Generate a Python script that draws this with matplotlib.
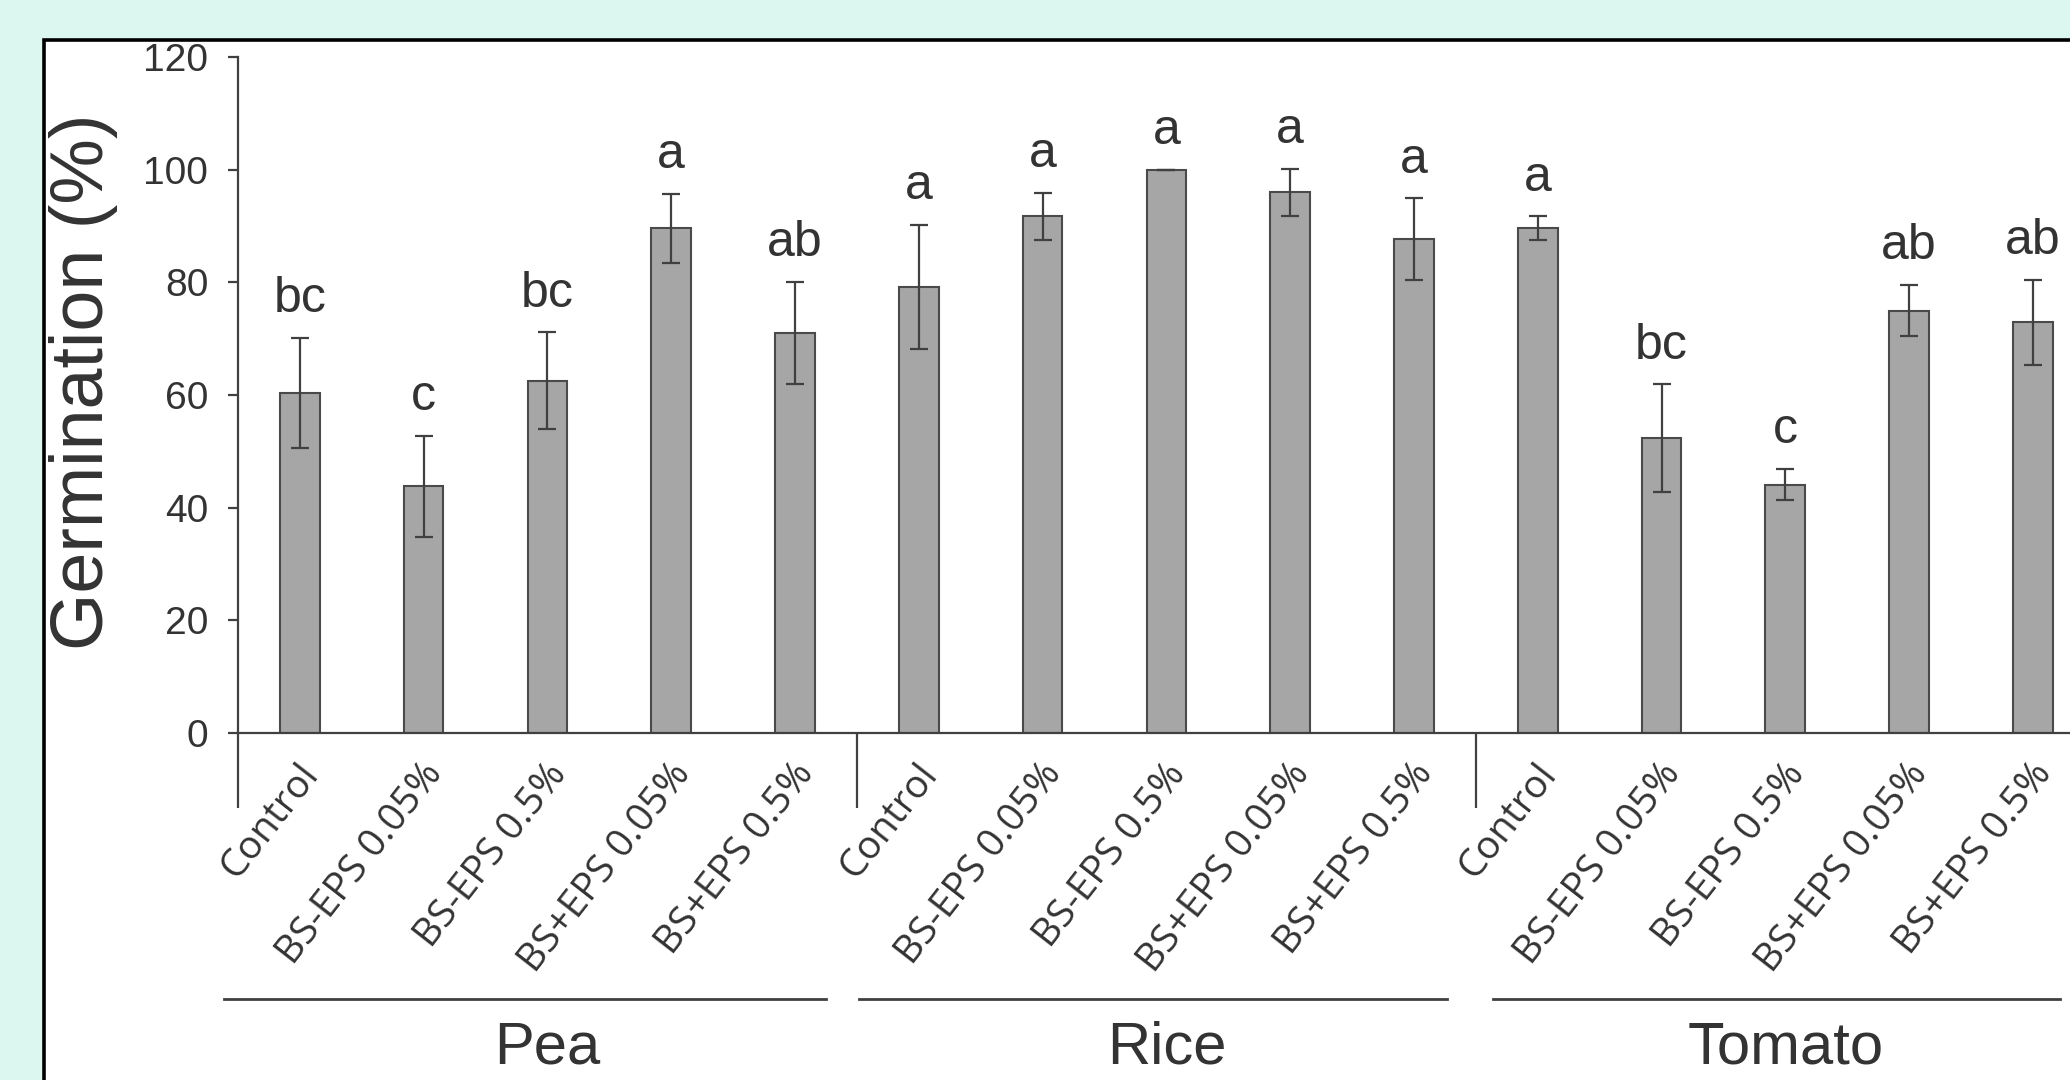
import matplotlib
matplotlib.use("Agg")
import matplotlib.pyplot as plt
import matplotlib.transforms as mtransforms
from matplotlib.patches import Rectangle
import numpy as np

# ---- data ----
crops = ["Pea", "Rice", "Tomato"]
treatments = ["Control", "BS-EPS 0.05%", "BS-EPS 0.5%", "BS+EPS 0.05%", "BS+EPS 0.5%"]

pea_mean = [60.4, 43.8, 62.5, 89.6, 71.0]
pea_err = [9.8, 9.0, 8.6, 6.1, 9.1]
pea_sig = ["bc", "c", "bc", "a", "ab"]

rice_mean = [79.2, 91.7, 100.0, 96.0, 87.7]
rice_err = [11.0, 4.2, 0.0, 4.2, 7.2]
rice_sig = ["a", "a", "a", "a", "a"]

tomato_mean = [89.6, 52.3, 44.1, 75.0, 72.9]
tomato_err = [2.1, 9.6, 2.8, 4.6, 7.6]
tomato_sig = ["a", "bc", "c", "ab", "ab"]

y_ticks = [0, 20, 40, 60, 80, 100, 120]

# ---- layout / styling ----
W, H, DPI = 2070, 1080, 100
BG = "#DBF7F0"
BAR_FILL = "#A6A6A6"
BAR_EDGE = "#4A4A4A"
INK = "#333333"
AX_COL = "#404040"

means = np.array(pea_mean + rice_mean + tomato_mean)
errs = np.array(pea_err + rice_err + tomato_err)
sigs = pea_sig + rice_sig + tomato_sig
labels = treatments * len(crops)
x = np.arange(len(means), dtype=float)

fig = plt.figure(figsize=(W / DPI, H / DPI), dpi=DPI, facecolor=BG)

# white panel with black frame, kept behind the axes
panel = Rectangle((44 / W, -0.2), 2.0, 0.2 + 1 - 40 / H,
                  transform=fig.transFigure, facecolor="white",
                  edgecolor="black", linewidth=2.6, zorder=-10)
fig.patches.append(panel)

ax_left = 238 / W
ax_bottom = 1 - 733 / H
ax_top = 1 - 57 / H
ax = fig.add_axes([ax_left, ax_bottom, 1 - ax_left, ax_top - ax_bottom])
ax.set_zorder(5)
ax.set_facecolor("none")
ax.set_xlim(-0.5, 14.3)
ax.set_ylim(0, 120)

ax.bar(x, means, width=0.32, color=BAR_FILL, edgecolor=BAR_EDGE, linewidth=1.5, zorder=2)
ax.errorbar(x, means, yerr=errs, fmt="none", ecolor=AX_COL, elinewidth=1.6,
            capsize=6.5, capthick=1.6, zorder=3)

for xi, m, e, s in zip(x, means, errs, sigs):
    ax.annotate(s, (xi, m + e), xytext=(0, 18.5), textcoords="offset points",
                ha="center", va="baseline", fontsize=36, color=INK,
                family="Liberation Sans")

# axes styling
for side in ("top", "right"):
    ax.spines[side].set_visible(False)
for side in ("left", "bottom"):
    ax.spines[side].set_color(AX_COL)
    ax.spines[side].set_linewidth(1.6)

ax.set_yticks(y_ticks)
ax.set_yticklabels([str(t) for t in y_ticks], fontsize=28, color=INK,
                   family="Liberation Sans")
ax.tick_params(axis="y", direction="out", length=7.5, width=1.6, color=AX_COL, pad=14)

ax.set_xticks(x)
ax.set_xticklabels(labels, rotation=52, ha="right", va="top",
                   rotation_mode="anchor", fontsize=28, color=INK,
                   family="Open Sans")
ax.tick_params(axis="x", length=0, pad=16.5)
shift = mtransforms.ScaledTranslation(-3 / DPI, 0, fig.dpi_scale_trans)
for lab in ax.get_xticklabels():
    lab.set_transform(lab.get_transform() + shift)

ax.set_ylabel("Germination (%)", fontsize=53, color=INK,
              family="Liberation Sans", va="center")
ax.yaxis.set_label_coords((84 - 238) / 1832, 0.519)

# group separators below the axis and group underlines / names
px_per_unit = (733 - 57) / 120.0
sep_bottom = -(808 - 733) / px_per_unit
line_y = -(999 - 733) / px_per_unit
name_y = -(1064 - 733) / px_per_unit
for xs in (-0.5, 4.5, 9.5):
    ax.plot([xs, xs], [0, sep_bottom], color=AX_COL, lw=1.6, clip_on=False,
            solid_capstyle="butt")

group_spans = [(-0.61, 4.25), (4.52, 9.27), (9.64, 14.22)]
for gi, ((a, b), name) in enumerate(zip(group_spans, crops)):
    ax.plot([a, b], [line_y, line_y], color=AX_COL, lw=2.0, clip_on=False)
    ax.text(gi * 5 + 2, name_y, name, ha="center", va="baseline", fontsize=43,
            color=INK, family="Liberation Sans", clip_on=False)

fig.savefig("out.png", dpi=DPI, facecolor=BG)
